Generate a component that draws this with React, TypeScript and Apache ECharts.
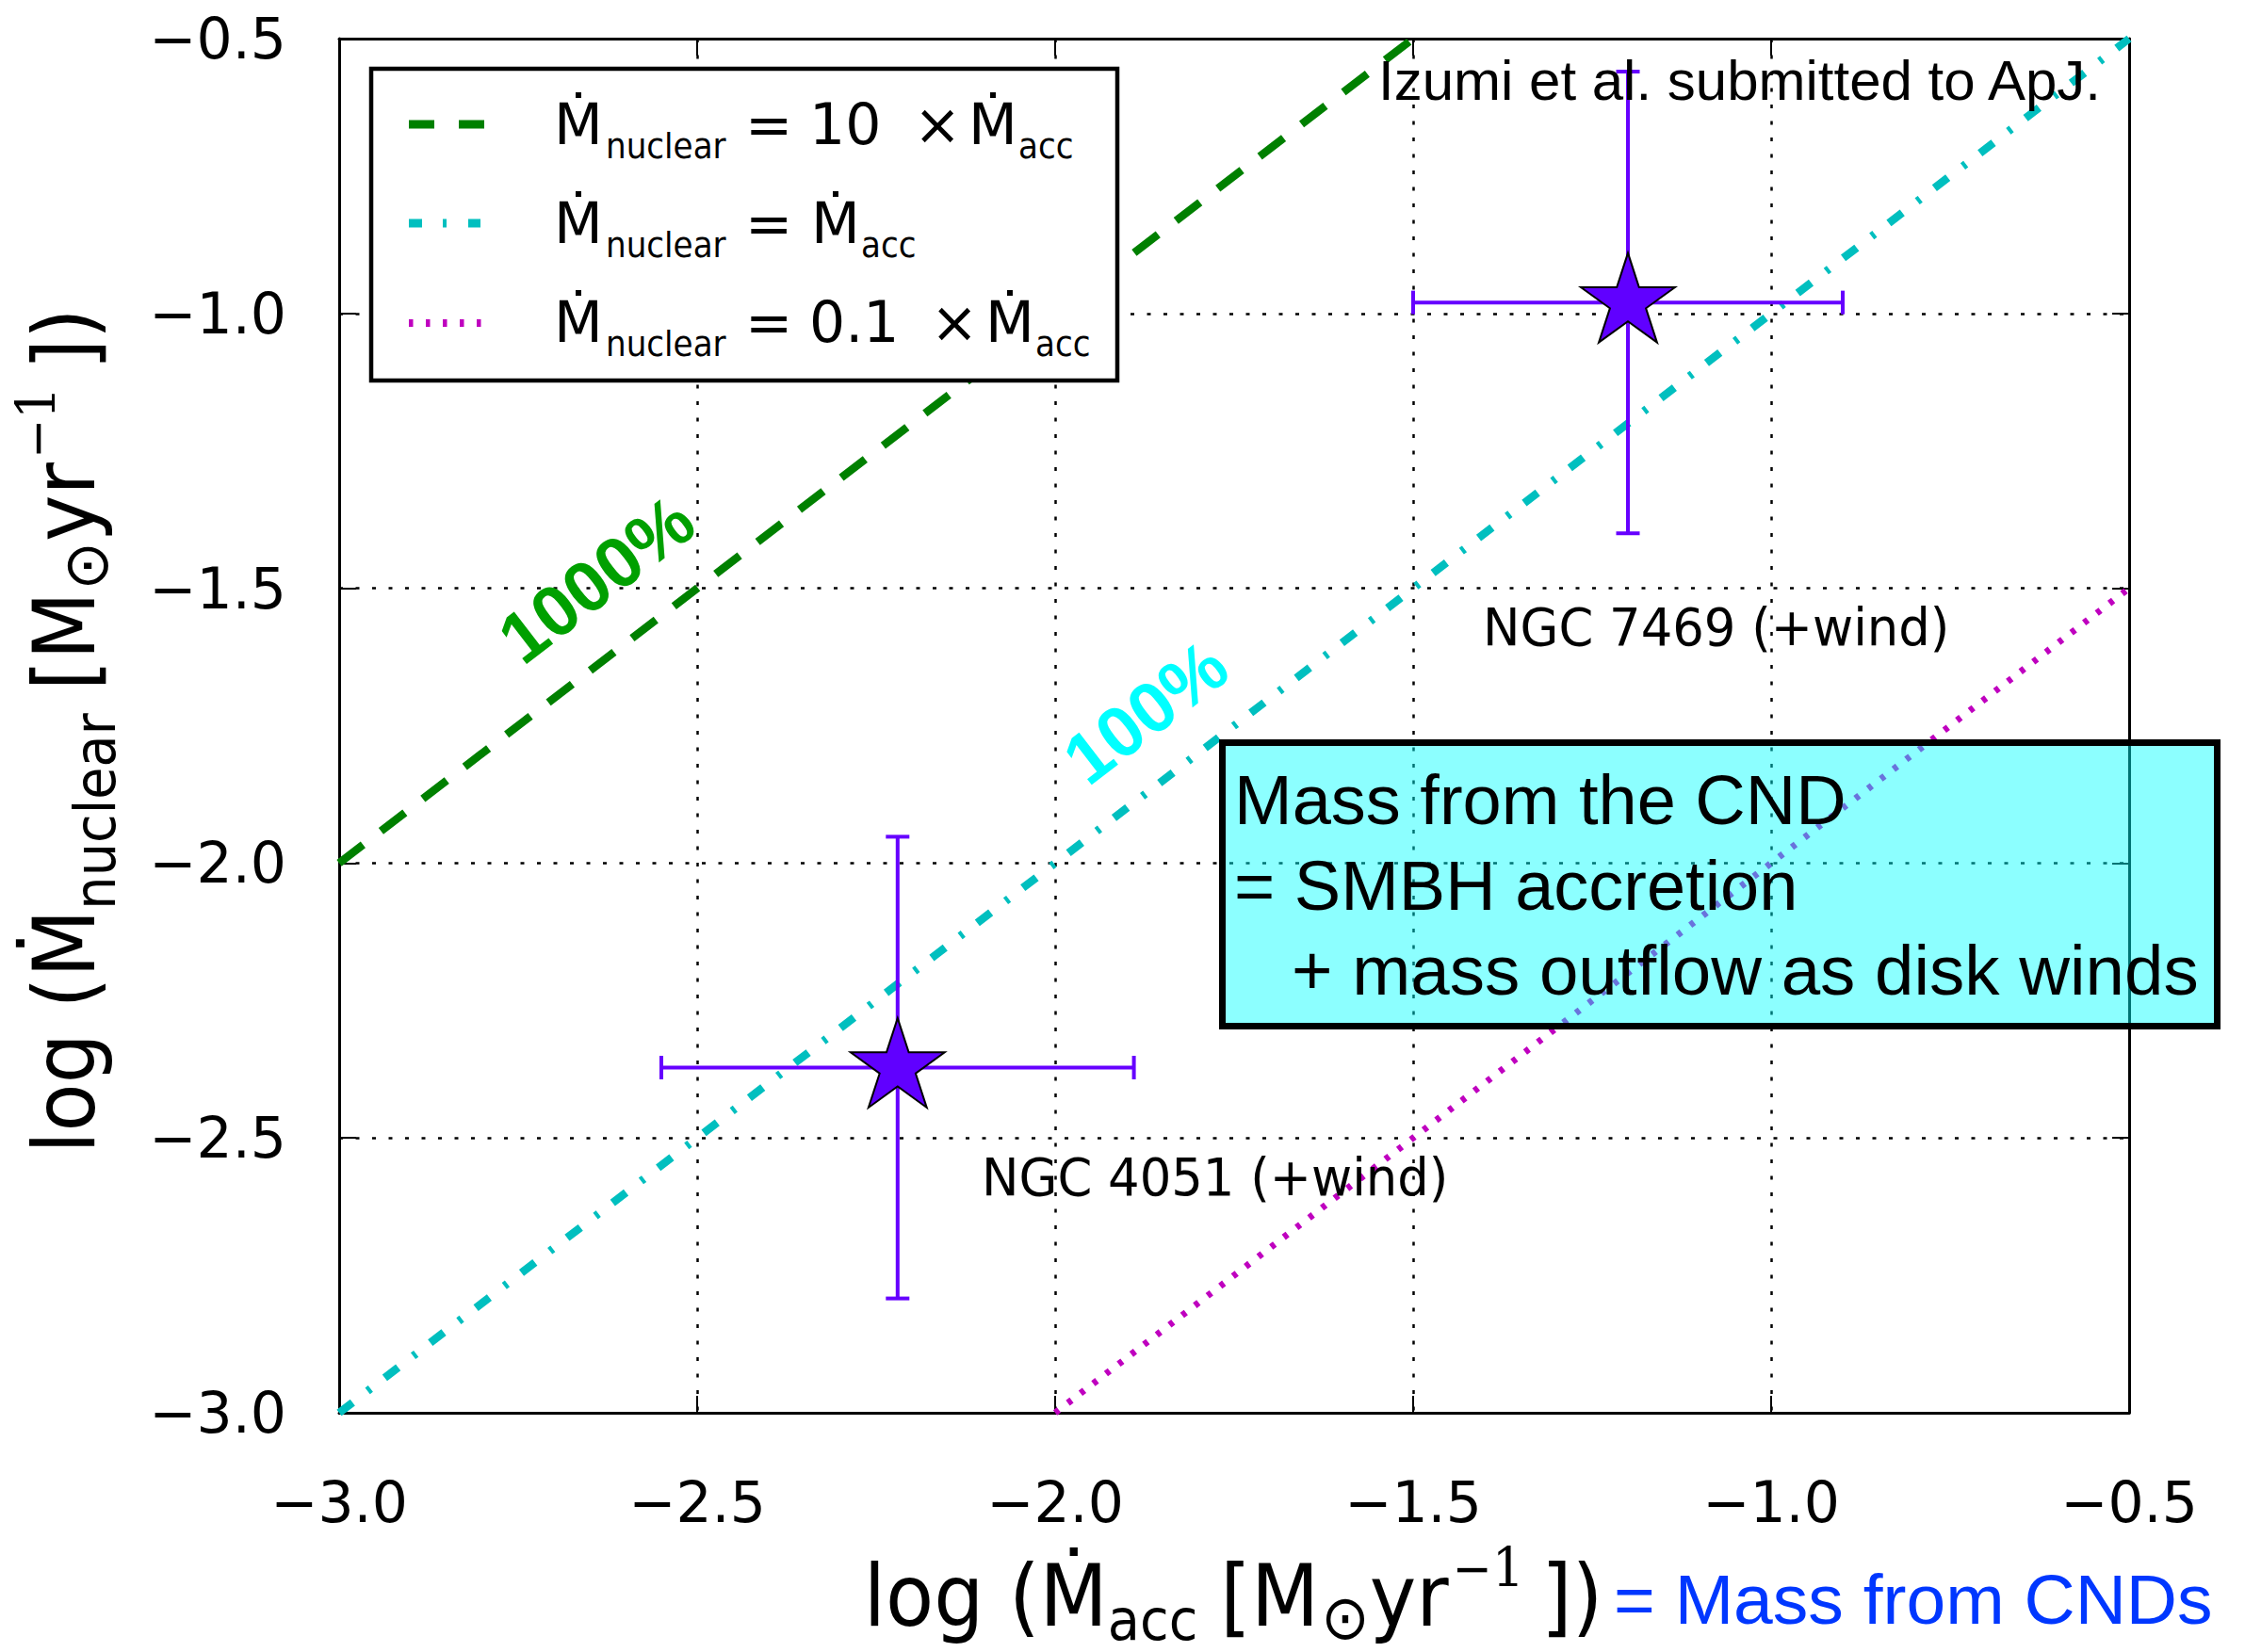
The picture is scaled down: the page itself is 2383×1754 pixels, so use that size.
import React, { useEffect, useRef } from 'react';
import * as echarts from 'echarts';

// ---------- data ----------
const xTicks = [-3.0, -2.5, -2.0, -1.5, -1.0, -0.5];
const yTicks = [-3.0, -2.5, -2.0, -1.5, -1.0, -0.5];

const galaxyLabels = ['NGC 4051 (+wind)', 'NGC 7469 (+wind)'];
const logMacc = [-2.22, -1.2];
const logMnuc = [-2.372, -0.98];
const maccErrLow = [0.33, 0.3];
const maccErrHigh = [0.33, 0.3];
const mnucErrLow = [0.42, 0.42];
const mnucErrHigh = [0.42, 0.42];

// reference lines: Mnuc = 10 x Macc, = Macc, = 0.1 x Macc (log space endpoints)
const line10x = [[-3.0, -2.0], [-1.5, -0.5]];
const line1x = [[-3.0, -3.0], [-0.5, -0.5]];
const line01x = [[-2.0, -3.0], [-0.5, -1.5]];

const legendFactors = ['10', '', '0.1'];
const percentLabels = ['1000%', '100%'];
const boxLines = ['Mass from the CND', '= SMBH accretion', '+ mass outflow as disk winds'];
const creditText = 'Izumi et al. submitted to ApJ.';
const xExtra = '= Mass from CNDs';

// ---------- helpers ----------
const DJV = 'DejaVu Sans';
const LIB = 'Liberation Sans';
const fmt = (v: number) => (v < 0 ? '\u2212' : '') + Math.abs(v).toFixed(1);

let measureCtx: CanvasRenderingContext2D | null = null;
function textWidth(t: string, size: number, family: string, weight = 'normal') {
  if (!measureCtx) measureCtx = document.createElement('canvas').getContext('2d');
  measureCtx!.font = `${weight} ${size}px "${family}"`;
  return measureCtx!.measureText(t).width;
}

type Seg = { t: string; s: number; dy?: number; gap?: number; family?: string };

function textEl(t: string, x: number, baseline: number, s: number, opts: any = {}) {
  return {
    type: 'text',
    x,
    y: baseline - 0.35 * s,
    scaleX: opts.k ?? 1,
    rotation: opts.rotation ?? 0,
    z: opts.z ?? 60,
    silent: true,
    style: {
      text: t,
      fontSize: s,
      fontFamily: opts.family ?? DJV,
      fontWeight: opts.weight ?? 'normal',
      fill: opts.color ?? '#000',
      align: opts.align ?? 'left',
      textAlign: opts.align ?? 'left',
      verticalAlign: 'middle',
      textVerticalAlign: 'middle',
    },
  };
}

function mathGroup(segs: Seg[], k: number, x: number, y: number, rotation: number, z: number, color = '#000') {
  let cx = 0;
  const kids: any[] = [];
  for (const sg of segs) {
    cx += sg.gap || 0;
    const fam = sg.family || DJV;
    kids.push({
      type: 'text',
      x: cx,
      y: (sg.dy || 0) - 0.35 * sg.s,
      scaleX: k,
      z,
      silent: true,
      style: {
        text: sg.t,
        fontSize: sg.s,
        fontFamily: fam,
        fill: color,
        align: 'left',
        textAlign: 'left',
        verticalAlign: 'middle',
        textVerticalAlign: 'middle',
      },
    });
    cx += textWidth(sg.t, sg.s, fam) * k;
  }
  kids.forEach((c) => (c.x -= cx / 2));
  return { type: 'group', x, y, rotation, z, children: kids };
}

function starPath() {
  const R = 50;
  const r = R * 0.381966;
  let d = '';
  for (let i = 0; i < 10; i++) {
    const a = (-90 + i * 36) * (Math.PI / 180);
    const rr = i % 2 === 0 ? R : r;
    const px = (rr * Math.cos(a)).toFixed(3);
    const py = (rr * Math.sin(a)).toFixed(3);
    d += (i === 0 ? 'M' : 'L') + px + ' ' + py + ' ';
  }
  return 'path://' + d + 'Z';
}

const errColor = '#6600ff';

function buildOption() {
  const errData = logMacc.map((x, i) => [
    x,
    logMnuc[i],
    x - maccErrLow[i],
    x + maccErrHigh[i],
    logMnuc[i] - mnucErrLow[i],
    logMnuc[i] + mnucErrHigh[i],
  ]);
  const starData = logMacc.map((x, i) => [x, logMnuc[i]]);

  const axisCommon = {
    type: 'value',
    min: xTicks[0],
    max: xTicks[xTicks.length - 1],
    interval: 0.5,
    axisLine: { show: true, onZero: false, lineStyle: { color: '#000', width: 3 } },
    axisTick: { show: true, inside: true, length: 18, lineStyle: { color: '#000', width: 2 } },
  };
  const yCommon = { ...axisCommon, min: yTicks[0], max: yTicks[yTicks.length - 1] };

  const legendRows = [132, 237, 343];
  const legendBase = [153, 258, 363];
  const graphics: any[] = [];

  // legend box
  graphics.push({
    type: 'rect',
    z: 100,
    silent: true,
    shape: { x: 394, y: 73, width: 792, height: 331 },
    style: { fill: '#fff', stroke: '#000', lineWidth: 4.5 },
  });
  graphics.push({
    type: 'line', z: 101, silent: true,
    shape: { x1: 434, y1: legendRows[0], x2: 514, y2: legendRows[0] },
    style: { stroke: '#008000', lineWidth: 9, lineDash: [27, 26] },
  });
  graphics.push({
    type: 'line', z: 101, silent: true,
    shape: { x1: 434, y1: legendRows[1], x2: 510, y2: legendRows[1] },
    style: { stroke: '#00bfbf', lineWidth: 9, lineDash: [14, 22, 4, 23] },
  });
  graphics.push({
    type: 'line', z: 101, silent: true,
    shape: { x1: 434, y1: legendRows[2], x2: 514, y2: legendRows[2] },
    style: { stroke: '#bf00bf', lineWidth: 8, lineDash: [4.5, 13.5] },
  });
  const lo = { k: 1, z: 102 };
  const ls = { k: 0.9, z: 102 };
  const accX = [1081, 914, 1099];
  const timesX = [970, 0, 988];
  const mX = [1028, 861, 1046];
  legendBase.forEach((b, i) => {
    graphics.push(textEl('\u1E40', 588, b, 60, lo));
    graphics.push(textEl('nuclear', 643, b + 15, 38, ls));
    graphics.push(textEl('=', 791, b, 60, lo));
    if (legendFactors[i]) {
      graphics.push(textEl(legendFactors[i], 859, b, 60, lo));
      graphics.push(textEl('\u00D7', timesX[i], b, 60, lo));
    }
    graphics.push(textEl('\u1E40', mX[i], b, 60, lo));
    graphics.push(textEl('acc', accX[i], b + 15, 38, ls));
  });

  // credit text
  graphics.push(textEl(creditText, 1463, 106, 60, { family: LIB, z: 60 }));

  // galaxy labels
  graphics.push(textEl(galaxyLabels[1], 1574, 685, 55, { k: 0.96, z: 60 }));
  graphics.push(textEl(galaxyLabels[0], 1042, 1269, 55, { k: 0.96, z: 60 }));

  // percentage labels (rotated)
  const ang = (37.5 * Math.PI) / 180;
  graphics.push({
    type: 'text', x: 633, y: 615, rotation: ang, z: 60, silent: true,
    style: { text: percentLabels[0], fontSize: 76, fontFamily: LIB, fontWeight: 'bold', fill: '#00a000', align: 'center', textAlign: 'center', verticalAlign: 'middle', textVerticalAlign: 'middle' },
  });
  graphics.push({
    type: 'text', x: 1216, y: 756, rotation: ang, z: 60, silent: true,
    style: { text: percentLabels[1], fontSize: 76, fontFamily: LIB, fontWeight: 'bold', fill: '#00ffff', align: 'center', textAlign: 'center', verticalAlign: 'middle', textVerticalAlign: 'middle' },
  });

  // cyan annotation box
  graphics.push({
    type: 'rect', z: 70, silent: true,
    shape: { x: 1297.5, y: 788.5, width: 1056, height: 301 },
    style: { fill: 'rgba(0,255,255,0.45)', stroke: '#000', lineWidth: 7 },
  });
  graphics.push(textEl(boxLines[0], 1310, 875, 74, { family: LIB, z: 71 }));
  graphics.push(textEl(boxLines[1], 1310, 966, 74, { family: LIB, z: 71 }));
  graphics.push(textEl(boxLines[2], 1371, 1057, 74.5, { family: LIB, z: 71 }));

  // axis labels
  const S = 90;
  const k = 0.93;
  const tail: Seg[] = [
    { t: '[', s: S, gap: 24 },
    { t: 'M', s: S },
    { t: '\u2299', s: 66, dy: 14, gap: 2 },
    { t: 'yr', s: S, gap: 0 },
    { t: '\u2212', s: 54, dy: -42, gap: 4 },
    { t: '1', s: 58, dy: -42, family: 'DejaVu Serif' },
    { t: '])', s: S, gap: 18 },
  ];
  const xSegs: Seg[] = [{ t: 'log (', s: S }, { t: '\u1E40', s: S }, { t: 'acc', s: 60, dy: 15 }, ...tail];
  const ySegs: Seg[] = [{ t: 'log (', s: S }, { t: '\u1E40', s: S }, { t: 'nuclear', s: 60, dy: 22 }, ...tail];
  graphics.push(mathGroup(xSegs, k, 1309, 1726, 0, 60));
  graphics.push(mathGroup(ySegs, k, 100, 776, Math.PI / 2, 60));
  graphics.push(textEl(xExtra, 1713, 1724, 75, { family: LIB, color: '#0037ff', z: 60 }));

  return {
    animation: false,
    backgroundColor: '#fff',
    grid: { left: 360, top: 41, width: 1900, height: 1459, show: false },
    xAxis: [
      {
        ...axisCommon,
        position: 'bottom',
        axisLabel: { show: true, formatter: fmt, fontSize: 60, fontFamily: DJV, color: '#000', margin: 65, showMinLabel: true, showMaxLabel: true },
        splitLine: { show: true, lineStyle: { color: '#000', width: 2.5, type: [4, 13.5] } },
      },
      { ...axisCommon, position: 'top', axisLabel: { show: false }, splitLine: { show: false } },
    ],
    yAxis: [
      {
        ...yCommon,
        position: 'left',
        axisLabel: { show: true, formatter: fmt, fontSize: 60, fontFamily: DJV, color: '#000', margin: 56, showMinLabel: true, showMaxLabel: true },
        splitLine: { show: true, lineStyle: { color: '#000', width: 2.5, type: [4, 13.5] } },
      },
      { ...yCommon, position: 'right', axisLabel: { show: false }, splitLine: { show: false } },
    ],
    series: [
      {
        type: 'line', data: line10x, symbol: 'none', silent: true, z: 3,
        lineStyle: { color: '#008000', width: 8.5, type: [32, 24] },
      },
      {
        type: 'line', data: line1x, symbol: 'none', silent: true, z: 3,
        lineStyle: { color: '#00bfbf', width: 8.5, type: [18, 20, 4, 19] },
      },
      {
        type: 'line', data: line01x, symbol: 'none', silent: true, z: 3,
        lineStyle: { color: '#bf00bf', width: 7, type: [5, 12] },
      },
      {
        type: 'custom',
        data: errData,
        encode: { x: 0, y: 1 },
        z: 4,
        silent: true,
        renderItem: (params: any, api: any) => {
          const x = api.value(0);
          const y = api.value(1);
          const pL = api.coord([api.value(2), y]);
          const pR = api.coord([api.value(3), y]);
          const pB = api.coord([x, api.value(4)]);
          const pT = api.coord([x, api.value(5)]);
          const cap = 12.5;
          const st = { stroke: errColor, lineWidth: 4, fill: null };
          const ln = (x1: number, y1: number, x2: number, y2: number) => ({ type: 'line', shape: { x1, y1, x2, y2 }, style: st });
          return {
            type: 'group',
            children: [
              ln(pL[0], pL[1], pR[0], pR[1]),
              ln(pT[0], pT[1], pB[0], pB[1]),
              ln(pL[0], pL[1] - cap, pL[0], pL[1] + cap),
              ln(pR[0], pR[1] - cap, pR[0], pR[1] + cap),
              ln(pT[0] - cap, pT[1], pT[0] + cap, pT[1]),
              ln(pB[0] - cap, pB[1], pB[0] + cap, pB[1]),
            ],
          };
        },
      },
      {
        type: 'scatter',
        data: starData,
        symbol: starPath(),
        symbolSize: [100, 95],
        symbolOffset: [0, -5],
        silent: true,
        z: 5,
        itemStyle: { color: '#6000ff', borderColor: '#000', borderWidth: 2, opacity: 1 },
      },
    ],
    graphic: graphics,
  };
}

export default function App() {
  const ref = useRef<HTMLDivElement>(null);
  useEffect(() => {
    document.body.style.margin = '0';
    const chart = echarts.init(ref.current!, null, { renderer: 'svg' });
    chart.setOption(buildOption() as any);
    return () => chart.dispose();
  }, []);
  return <div ref={ref} style={{ width: 2383, height: 1754, background: '#fff' }} />;
}
